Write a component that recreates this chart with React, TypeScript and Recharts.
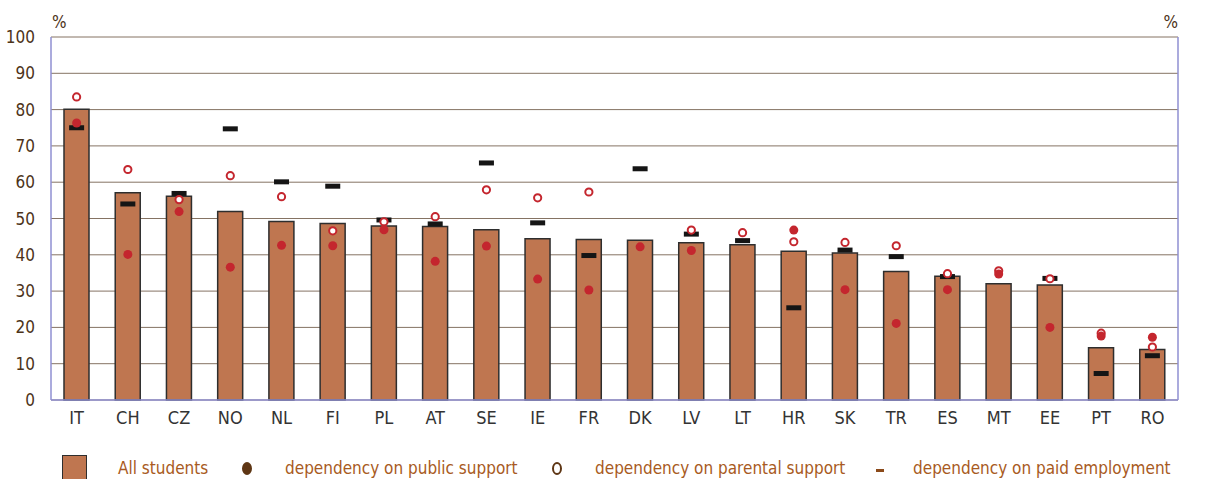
import { ComposedChart, Bar, Line, XAxis, YAxis, CartesianGrid, Legend } from 'recharts'

const countries = ['IT', 'CH', 'CZ', 'NO', 'NL', 'FI', 'PL', 'AT', 'SE', 'IE', 'FR', 'DK', 'LV', 'LT', 'HR', 'SK', 'TR', 'ES', 'MT', 'EE', 'PT', 'RO']
const allStudents = [80.1, 57.1, 56.1, 51.9, 49.2, 48.6, 47.9, 47.8, 46.9, 44.4, 44.2, 44.0, 43.3, 42.8, 41.0, 40.5, 35.4, 34.1, 32.0, 31.7, 14.4, 13.9]
const publicSupport = [76.3, 40.1, 51.9, 36.6, 42.6, 42.5, 46.9, 38.2, 42.4, 33.3, 30.3, 42.2, 41.2, null, 46.8, 30.4, 21.1, 30.4, 34.7, 20.0, 17.6, 17.3]
const parentalSupport = [83.5, 63.5, 55.2, 61.8, 56.0, 46.6, 49.1, 50.5, 57.9, 55.7, 57.3, null, 46.8, 46.1, 43.6, 43.4, 42.5, 34.8, 35.6, 33.4, 18.4, 14.6]
const paidEmployment = [75.0, 54.0, 56.9, 74.7, 60.1, 58.9, 49.6, 48.5, 65.3, 48.8, 39.8, 63.7, 45.7, 43.9, 25.4, 41.3, 39.5, 34.0, null, 33.5, 7.3, 12.2]
const yTicks = [0, 10, 20, 30, 40, 50, 60, 70, 80, 90, 100]

const legendLabels = ['All students', 'dependency on public support', 'dependency on parental support', 'dependency on paid employment']

const data = countries.map((c, i) => ({
  country: c,
  all: allStudents[i],
  pub: publicSupport[i],
  par: parentalSupport[i],
  emp: paidEmployment[i],
}))

const FONT = '"Liberation Sans Narrow", "DejaVu Sans Condensed", "Roboto Condensed", sans-serif'
const RED = '#c4262e'
const AXIS_BLUE = '#8f8fd2'

const PublicDot = (p: any) => {
  if (p.value == null || p.cy == null) return <g key={p.index} />
  return <circle key={p.index} cx={p.cx} cy={p.cy} r={4.5} fill={RED} />
}

const ParentalDot = (p: any) => {
  if (p.value == null || p.cy == null) return <g key={p.index} />
  return <circle key={p.index} cx={p.cx} cy={p.cy} r={3.6} fill="#fff" stroke={RED} strokeWidth={2} />
}

const EmploymentDash = (p: any) => {
  if (p.value == null || p.cy == null) return <g key={p.index} />
  return <rect key={p.index} x={p.cx - 7.5} y={p.cy - 2.5} width={15} height={5} fill="#151515" />
}

const legendText = { position: 'absolute' as const, top: 10, fontSize: 17, color: '#a85a22', whiteSpace: 'nowrap' as const }

const LegendContent = () => (
  <div style={{ position: 'relative', width: 1221, height: 31, fontFamily: FONT }}>
    <div style={{ position: 'absolute', left: 62, top: 7, width: 23, height: 26, background: '#bf7650', border: '1.5px solid #2e2e2e' }} />
    <span style={{ ...legendText, left: 118 }}>{legendLabels[0]}</span>
    <div style={{ position: 'absolute', left: 242, top: 14, width: 10, height: 13, borderRadius: '50%', background: '#5e3614' }} />
    <span style={{ ...legendText, left: 285 }}>{legendLabels[1]}</span>
    <div style={{ position: 'absolute', left: 552, top: 14, width: 6, height: 9, borderRadius: '50%', border: '2.5px solid #5e3614' }} />
    <span style={{ ...legendText, left: 595 }}>{legendLabels[2]}</span>
    <div style={{ position: 'absolute', left: 876, top: 21, width: 8, height: 3, background: '#8b4a1a' }} />
    <span style={{ ...legendText, left: 913 }}>{legendLabels[3]}</span>
  </div>
)

export default function App() {
  return (
    <div style={{ position: 'absolute', left: 0, top: 0, width: 1221, height: 479, background: '#fff', fontFamily: FONT }}>
      <ComposedChart width={1221} height={479} data={data} margin={{ top: 37, right: 0, bottom: 49, left: 0 }}>
        <CartesianGrid yAxisId="left" vertical={false} stroke="#857363" strokeWidth={1} />
        <XAxis
          dataKey="country"
          height={30}
          tickSize={0}
          tickMargin={11}
          tickLine={false}
          axisLine={{ stroke: AXIS_BLUE, strokeWidth: 1.5 }}
          tick={{ fill: '#333', fontSize: 18, fontFamily: FONT }}
          interval={0}
        />
        <YAxis
          yAxisId="left"
          width={51}
          domain={[0, 100]}
          ticks={yTicks}
          tickSize={0}
          tickMargin={16}
          tickLine={false}
          axisLine={{ stroke: AXIS_BLUE, strokeWidth: 1.5 }}
          tick={{ fill: '#4d3319', fontSize: 17, fontFamily: FONT }}
          label={{ content: () => <text x={52} y={28} fill="#4d3319" fontSize={17} fontFamily={FONT}>%</text> }}
        />
        <YAxis
          yAxisId="right"
          orientation="right"
          width={43}
          domain={[0, 100]}
          ticks={yTicks}
          tickSize={0}
          tickMargin={19}
          tickLine={false}
          axisLine={{ stroke: AXIS_BLUE, strokeWidth: 1.5 }}
          tick={{ fill: '#4d3319', fontSize: 17, fontFamily: FONT }}
          label={{ content: () => <text x={1178} y={28} textAnchor="end" fill="#4d3319" fontSize={17} fontFamily={FONT}>%</text> }}
        />
        <Bar yAxisId="left" dataKey="all" barSize={25} fill="#bf7650" stroke="#2e2e2e" strokeWidth={1.5} isAnimationActive={false} />
        <Line yAxisId="left" dataKey="emp" stroke="none" dot={EmploymentDash} activeDot={false} isAnimationActive={false} />
        <Line yAxisId="left" dataKey="par" stroke="none" dot={ParentalDot} activeDot={false} isAnimationActive={false} />
        <Line yAxisId="left" dataKey="pub" stroke="none" dot={PublicDot} activeDot={false} isAnimationActive={false} />
        <Legend
          layout="horizontal"
          verticalAlign="middle"
          align="center"
          content={<LegendContent />}
          wrapperStyle={{ left: 0, top: 448, width: 1221, height: 31 }}
        />
      </ComposedChart>
    </div>
  )
}
